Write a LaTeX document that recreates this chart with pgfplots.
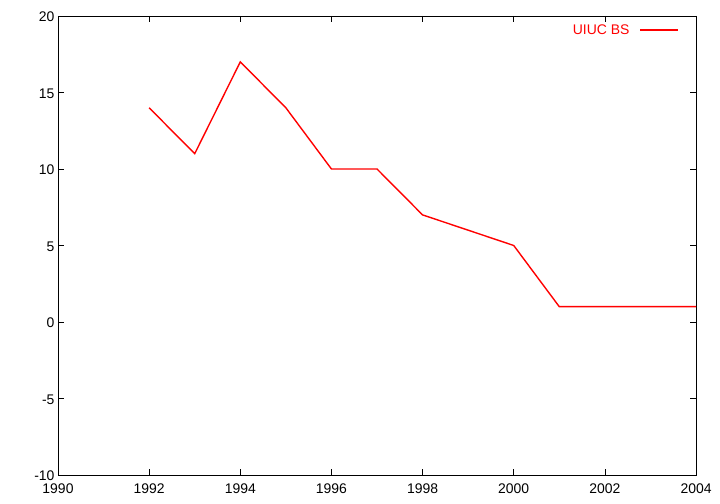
\documentclass[border=0pt]{standalone}
\usepackage{pgfplots}
\pgfplotsset{compat=1.18}
\usepackage{fontspec}
\setmainfont{Liberation Sans}
\begin{document}
\begin{tikzpicture}[x=1bp,y=1bp]
\useasboundingbox (0,0) rectangle (720,504);
\begin{axis}[
  at={(58bp,29bp)}, anchor=south west,
  scale only axis, width=638bp, height=459bp,
  xmin=1990, xmax=2004, ymin=-10, ymax=20,
  xtick={1990,1992,...,2004}, ytick={-10,-5,...,20},
  tick align=inside, major tick length=6bp,
  xticklabel style={/pgf/number format/1000 sep={}, yshift=-5bp},
  yticklabel style={yshift=-1bp},
  /pgf/number format/assume math mode=true,
  tick label style={font=\fontsize{14}{16}\selectfont},
  axis line style={line width=0.8pt},
  tick style={line width=0.5pt, black},
  legend plot pos=right,
  legend style={draw=none, fill=none, inner sep=0pt, at={(0.9734,0.9695)}, anchor=east,
    nodes={inner sep=0pt}, column sep=10bp,
    font=\fontsize{14}{16}\selectfont\color{red}},
  legend image code/.code={\draw[#1] (0bp,0bp) -- (38bp,0bp);},
]
\addplot[red, line width=1.4pt, mark=none] coordinates {
(1992,14) (1993,11) (1994,17) (1995,14) (1996,10) (1997,10) (1998,7)
(1999,6) (2000,5) (2001,1) (2002,1) (2003,1) (2004,1)};
\addlegendentry{UIUC BS}
\end{axis}
\end{tikzpicture}
\end{document}
